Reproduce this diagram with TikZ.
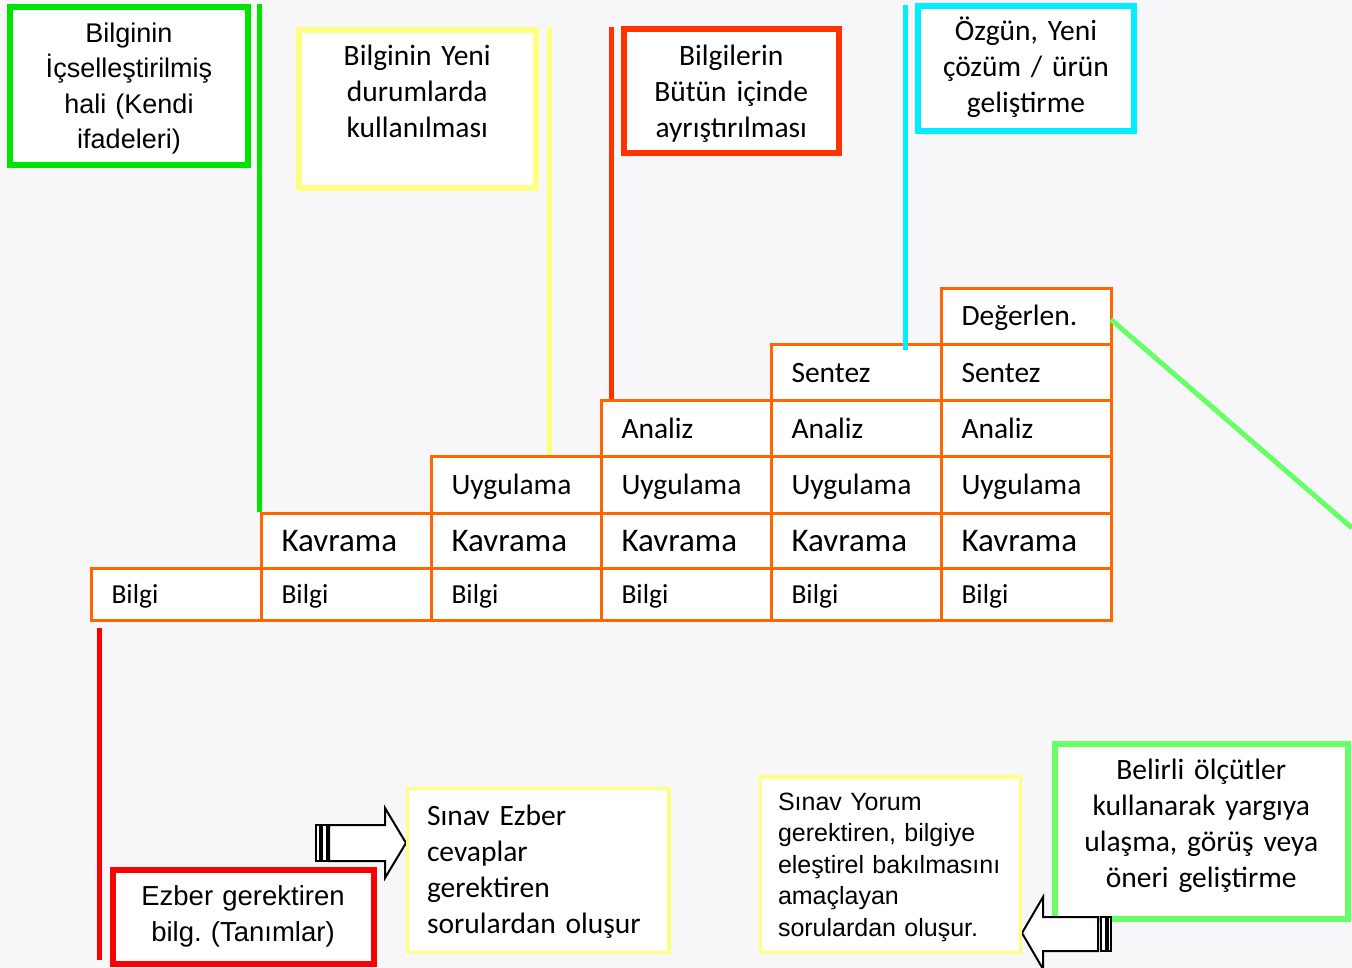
\documentclass[tikz,border=0pt]{standalone}
\usepackage{fontspec}
\setmainfont{Carlito}
\newfontfamily\arialfont{Liberation Sans}
\usetikzlibrary{calc}
\frenchspacing

\definecolor{bgcol}{RGB}{247,247,250}
\definecolor{gridorange}{RGB}{255,102,0}
\definecolor{boxgreen}{RGB}{0,228,0}
\definecolor{boxyellow}{RGB}{255,255,128}
\definecolor{boxorange}{RGB}{255,51,0}
\definecolor{boxcyan}{RGB}{0,238,255}
\definecolor{boxred}{RGB}{255,0,0}
\definecolor{boxlgreen}{RGB}{102,255,102}

\tikzset{
  cell/.style={draw=gridorange, line width=3pt, fill=white, anchor=north west,
    minimum width=170pt, inner xsep=20pt, inner ysep=0pt, text width=130pt,
    align=left, text depth=0pt},
  tbox/.style={anchor=north, fill=white, line width=6pt, align=center, inner xsep=8pt},
  sbox/.style={anchor=north, fill=white, draw=boxyellow, line width=3.5pt, align=left},
  vline/.style={line width=5pt},
  arrowbody/.style={draw=black, fill=white, line width=2pt, line join=miter}
}

\begin{document}
\begin{tikzpicture}[x=1pt,y=1pt,yscale=-1]
\path[use as bounding box, fill=bgcol] (0,0) rectangle (1352,968);

%Grid of cells
\foreach \rw/\lbl/\yy/\hh/\fsz/\capt in {1/Bilgi/567/52/27.5/17.7,2/Kavrama/512/55/33/21.3,3/Uygulama/455/57/29.5/19,4/Analiz/399/56/29.5/19,5/Sentez/343/56/29.5/19,6/Değerlen./287/56/29.5/19}{
  \foreach \cl in {\rw,...,6}{
    \node[cell, minimum height=\hh pt, text height=\capt pt, font=\fontsize{\fsz}{\fsz}\selectfont] (c\rw\cl) at ({90+170*(\cl-1)},\yy) {\lbl};
  }
}

% Text Node
\node[tbox, draw=boxgreen, font=\arialfont\fontsize{27}{35.5}\selectfont, text width=222pt, inner ysep=15.7pt, text height=19.3pt, text depth=106.8pt] (gbox) at (129,4.5) {Bilginin\\ İçselleştirilmiş\\ hali (Kendi\\ ifadeleri)};
% Text Node
\node[tbox, draw=boxyellow, font=\fontsize{29.5}{36}\selectfont, text width=221.5pt, inner ysep=16.5pt, text height=19pt, text depth=106.5pt] (ybox) at (417.25,27) {Bilginin Yeni\\ durumlarda\\ kullanılması};
% Text Node
\node[tbox, draw=boxorange, font=\fontsize{29.5}{36}\selectfont, text width=198.5pt, inner ysep=17.5pt, text height=19pt, text depth=70pt] (obox) at (731.25,26) {Bilgilerin\\ Bütün içinde\\ ayrıştırılması};
% Text Node
\node[tbox, draw=boxcyan, font=\fontsize{29.5}{36}\selectfont, text width=200pt, inner ysep=16pt, text height=19pt, text depth=74pt] (cbox) at (1026,3) {Özgün, Yeni\\ çözüm / ürün\\ geliştirme};
% Text Node
\node[tbox, draw=boxred, font=\arialfont\fontsize{27.5}{36}\selectfont, text width=245pt, inner ysep=15.3pt, text height=19.7pt, text depth=43.7pt] (ebox) at (243,867) {Ezber gerektiren\\ bilg. (Tanımlar)};
% Text Node
\node[tbox, draw=boxlgreen, font=\fontsize{29.5}{36}\selectfont, text width=273.5pt, inner xsep=10pt, inner ysep=16pt, text height=19pt, text depth=124pt] (lbox) at (1201.25,741) {Belirli ölçütler\\ kullanarak yargıya\\ ulaşma, görüş veya\\ öneri geliştirme};

%Striped arrows
\draw[arrowbody] (329,825) -- (385,825) -- (385,808) -- (406,843) -- (385,878) -- (385,861) -- (329,861) -- cycle;
\draw[arrowbody] (316,825) rectangle (319.5,861);
\draw[arrowbody] (321.5,825) rectangle (326.5,861);
\draw[arrowbody] (1098,917) -- (1043,917) -- (1043,897) -- (1022,933) -- (1043,969) -- (1043,951) -- (1098,951) -- cycle;
\draw[arrowbody] (1100.5,917) rectangle (1105.5,951);
\draw[arrowbody] (1107.5,917) rectangle (1111,951);

% Text Node
\node[sbox, font=\fontsize{29.5}{36}\selectfont, inner xsep=19.5pt, text width=222.5pt, inner ysep=18.5pt, text height=19pt, text depth=108pt] (sezber) at (538.25,786.5) {Sınav Ezber\\ cevaplar\\ gerektiren\\ sorulardan oluşur};
% Text Node
\node[sbox, font=\arialfont\fontsize{25}{31.5}\selectfont, inner xsep=17.5pt, text width=225pt, inner ysep=15.6pt, text height=17.9pt, text depth=126.4pt] (syorum) at (890.5,775) {Sınav Yorum\\ gerektiren, bilgiye\\ eleştirel bakılmasını\\ amaçlayan\\ sorulardan oluşur.};

%Straight Lines
\coordinate (gtop) at (259.5,4);
\draw[vline, draw=boxgreen] (gtop |- c22.north) -- (gtop);
\coordinate (ytop) at (549,27);
\draw[vline, draw=boxyellow] (ytop |- c33.north) -- (ytop);
\coordinate (otop) at (611.5,27);
\draw[vline, draw=boxorange] (otop |- c44.north) -- (otop);
\coordinate (ctop) at (905.5,5);
\draw[vline, draw=boxcyan] ($(ctop |- c55.north)+(0,7)$) -- (ctop);
\coordinate (rbot) at (99.5,960);
\draw[vline, draw=boxred] ($(rbot |- c11.south)+(0,6)$) -- (rbot);
\coordinate (dgend) at (1352,528);
\draw[vline, draw=boxlgreen] ($(c66.east)+(-2,3)$) -- (dgend);

\end{tikzpicture}
\end{document}
